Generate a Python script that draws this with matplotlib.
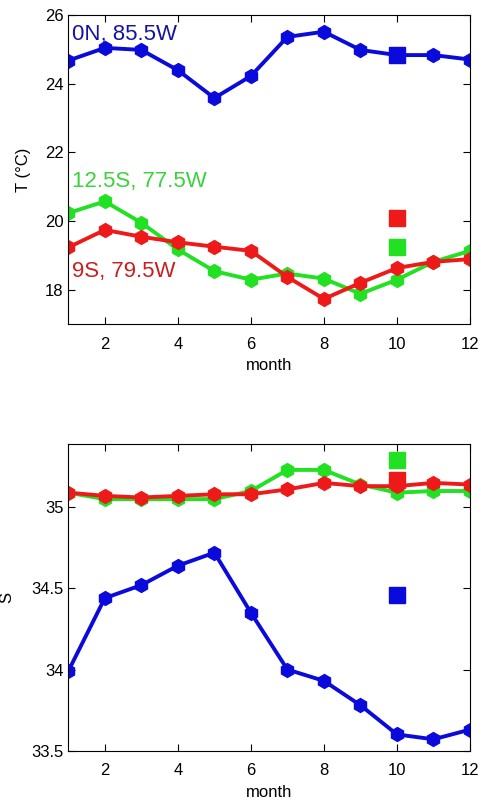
import numpy as np
import matplotlib
matplotlib.use("Agg")
import matplotlib.pyplot as plt

plt.rcParams['font.family'] = ['Liberation Sans', 'DejaVu Sans']

months = np.arange(1, 13)

# temperature (deg C)
T_0N = [24.67, 25.04, 24.98, 24.39, 23.58, 24.22, 25.36, 25.51, 24.98, 24.83, 24.83, 24.70]
T_12S = [20.23, 20.57, 19.95, 19.17, 18.54, 18.29, 18.47, 18.32, 17.88, 18.29, 18.81, 19.13]
T_9S = [19.23, 19.74, 19.54, 19.38, 19.25, 19.13, 18.37, 17.73, 18.20, 18.63, 18.81, 18.89]
T_sq = {"0N": 24.83, "12S": 19.23, "9S": 20.10}

# salinity
S_0N = [33.99, 34.44, 34.52, 34.64, 34.72, 34.35, 34.00, 33.93, 33.78, 33.60, 33.57, 33.63]
S_12S = [35.09, 35.05, 35.05, 35.05, 35.05, 35.10, 35.23, 35.23, 35.14, 35.09, 35.10, 35.10]
S_9S = [35.09, 35.07, 35.06, 35.07, 35.08, 35.08, 35.11, 35.15, 35.13, 35.13, 35.15, 35.14]
S_sq = {"0N": 34.46, "12S": 35.29, "9S": 35.17}
sq_month = 10

BLUE = "#0a0adc"
GREEN = "#22e022"
RED = "#ee1a1a"

fig = plt.figure(figsize=(4.82, 8.05), dpi=100)
ax1 = fig.add_axes([0.1417, 0.5975, 0.8334, 0.384])
ax2 = fig.add_axes([0.1417, 0.0675, 0.8334, 0.381])

kw = dict(linewidth=2.8, marker="h", markersize=10)

for ax, series, sq in [
    (ax1, [(T_12S, GREEN, "12S"), (T_9S, RED, "9S"), (T_0N, BLUE, "0N")], T_sq),
    (ax2, [(S_0N, BLUE, "0N"), (S_12S, GREEN, "12S"), (S_9S, RED, "9S")], S_sq),
]:
    for vals, c, key in series:
        ax.plot(months, vals, color=c, **kw)
    for vals, c, key in series:
        ax.plot([sq_month], [sq[key]], "s", color=c, markersize=11)
    ax.set_xlim(1, 12)
    ax.set_xticks([2, 4, 6, 8, 10, 12])
    ax.tick_params(direction="in", top=True, right=True, labelsize=12, length=5)
    ax.tick_params(axis="x", pad=9)
    ax.set_xlabel("month", fontsize=12, labelpad=5)

ax1.set_ylim(17, 26)
ax1.set_yticks([18, 20, 22, 24, 26])
ax1.set_ylabel("T (°C)", fontsize=12, labelpad=10)

ax2.set_ylim(33.5, 35.39)
ax2.set_yticks([33.5, 34, 34.5, 35])
ax2.set_yticklabels(["33.5", "34", "34.5", "35"])
ax2.set_ylabel("S", fontsize=12, labelpad=12)

ax1.text(1.1, 25.28, "0N, 85.5W", color="#1414a0", fontsize=16, va="baseline")
ax1.text(1.1, 21.0, "12.5S, 77.5W", color="#3cd23c", fontsize=16, va="baseline")
ax1.text(1.1, 18.37, "9S, 79.5W", color="#c82020", fontsize=16, va="baseline")

fig.savefig("out.png", dpi=100)
